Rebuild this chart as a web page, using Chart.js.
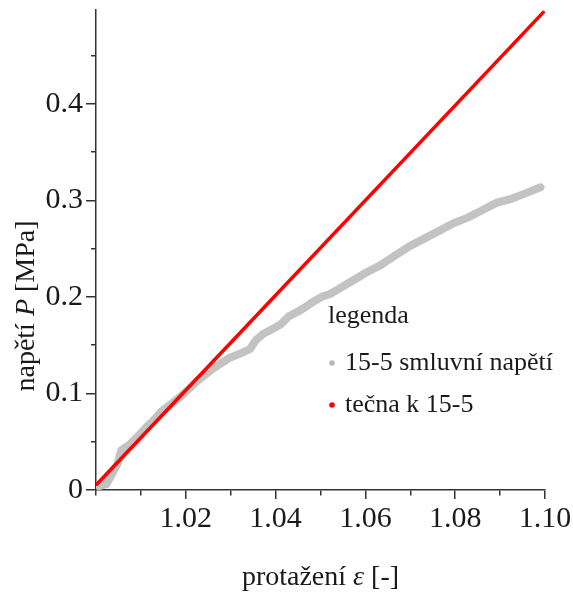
<!DOCTYPE html>
<html lang="cs">
<head>
    <meta charset="UTF-8">
    <title>napětí vs protažení</title>
    <style>
        html, body { margin: 0; padding: 0; background: #fff; }
        #wrap { position: relative; width: 573px; height: 598px; }
    </style>
</head>
<body>
    <div id="wrap"><canvas id="graf"></canvas></div>

    <script src="https://cdn.jsdelivr.net/npm/chart.js"></script>
    <script>
        // 15-5 smluvni napeti (protazeni, napeti)
        const protazeni = [1.0007, 1.0023, 1.0035, 1.0048, 1.0052, 1.0056, 1.0075, 1.0096, 1.0112, 1.0128,
            1.0145, 1.0162, 1.0177, 1.0194, 1.021, 1.0226, 1.0242, 1.0258, 1.0275, 1.0298,
            1.0325, 1.0343, 1.0356, 1.0372, 1.039, 1.041, 1.043, 1.0447, 1.0465, 1.0484,
            1.0503, 1.0521, 1.054, 1.0558, 1.058, 1.06, 1.0633, 1.0665, 1.0698, 1.073,
            1.0763, 1.0795, 1.0828, 1.086, 1.0893, 1.0925, 1.0958, 1.099];
        const napeti = [0.004, 0.006, 0.016, 0.027, 0.034, 0.041, 0.047, 0.057, 0.065, 0.072,
            0.081, 0.087, 0.0926, 0.099, 0.106, 0.113, 0.119, 0.125, 0.130, 0.137,
            0.142, 0.146, 0.155, 0.1616, 0.166, 0.171, 0.180, 0.184, 0.189, 0.195,
            0.200, 0.203, 0.208, 0.213, 0.219, 0.2247, 0.2326, 0.2424, 0.2523, 0.260,
            0.268, 0.276, 0.282, 0.2897, 0.2976, 0.3015, 0.3074, 0.3134];
        // tecna k 15-5
        const tecnaX = [1.0002, 1.0996];
        const tecnaY = [0.006, 0.4945];

        const nazvy = ['15-5 smluvní napětí', 'tečna k 15-5'];
        const barvy = ['#c3c3c3', '#ff0000'];
        const legendaNadpis = 'legenda';
        const xLabelTicks = [1.02, 1.04, 1.06, 1.08, 1.10];
        const yLabelTicks = [0, 0.1, 0.2, 0.3, 0.4];

        const serif = "'Liberation Serif', 'Times New Roman', serif";

        function body(xs, ys) {
            return xs.map((x, i) => ({ x: x, y: ys[i] }));
        }
        function najdi(seznam, v) {
            return seznam.find(t => Math.abs(t - v) < 1e-6);
        }

        function kresliText(ctx, casti, x, y, size) {
            let sirka = 0;
            casti.forEach(c => {
                ctx.font = (c.it ? 'italic ' : '') + size + 'px ' + serif;
                sirka += ctx.measureText(c.t).width;
            });
            let px = x - sirka / 2;
            casti.forEach(c => {
                ctx.font = (c.it ? 'italic ' : '') + size + 'px ' + serif;
                ctx.fillText(c.t, px, y);
                px += ctx.measureText(c.t).width;
            });
        }

        const popisky = {
            id: 'popisky',
            afterDraw(chart) {
                const ctx = chart.ctx;
                const a = chart.chartArea;
                ctx.save();
                ctx.fillStyle = '#1a1a1a';
                ctx.textBaseline = 'alphabetic';
                ctx.textAlign = 'left';
                kresliText(ctx, [{ t: 'protažení ' }, { t: 'ε', it: true }, { t: ' [-]' }], (a.left + a.right) / 2, 585, 28);
                ctx.save();
                ctx.translate(34, 306);
                ctx.rotate(-Math.PI / 2);
                kresliText(ctx, [{ t: 'napětí ' }, { t: 'P', it: true }, { t: ' [MPa]' }], 0, 0, 28);
                ctx.restore();

                // legenda
                ctx.font = '26px ' + serif;
                ctx.fillText(legendaNadpis, 328, 323);
                chart.data.datasets.forEach((ds, i) => {
                    const y = 370 + i * 42;
                    ctx.fillStyle = ds.legendColor;
                    ctx.beginPath();
                    ctx.arc(332, y - 7, 2.8, 0, Math.PI * 2);
                    ctx.fill();
                    ctx.fillStyle = '#1a1a1a';
                    ctx.fillText(ds.label, 345, y);
                });
                ctx.restore();
            }
        };

        new Chart(document.getElementById('graf'), {
            type: 'line',
            data: {
                datasets: [{
                    label: nazvy[0],
                    data: body(protazeni, napeti),
                    borderColor: barvy[0],
                    legendColor: '#b8b8b8',
                    borderWidth: 8,
                    borderCapStyle: 'round',
                    borderJoinStyle: 'round',
                    pointRadius: 0,
                    tension: 0,
                    order: 2
                }, {
                    label: nazvy[1],
                    data: body(tecnaX, tecnaY),
                    borderColor: barvy[1],
                    legendColor: barvy[1],
                    borderWidth: 3.5,
                    borderCapStyle: 'round',
                    pointRadius: 0,
                    order: 1
                }]
            },
            options: {
                responsive: true,
                maintainAspectRatio: false,
                animation: false,
                layout: { padding: { left: 0, right: 28, top: 10, bottom: 0 } },
                plugins: { legend: { display: false }, tooltip: { enabled: false } },
                scales: {
                    x: {
                        type: 'linear',
                        min: 1.0,
                        max: 1.1,
                        afterFit: s => { s.height = 108; s.paddingLeft = 0; s.paddingRight = 0; },
                        border: { display: true, color: '#333', width: 1.5 },
                        grid: {
                            drawOnChartArea: false, drawTicks: true, tickLength: 9, color: '#333', lineWidth: 1.5,
                            tickBorderDash: c => najdi(xLabelTicks, c.tick.value) !== undefined ? [] : [5, 100]
                        },
                        ticks: {
                            stepSize: 0.01,
                            includeBounds: false,
                            autoSkip: false,
                            maxRotation: 0,
                            padding: 2,
                            color: '#1a1a1a',
                            font: { family: serif, size: 30 },
                            callback: v => {
                                const m = najdi(xLabelTicks, v);
                                return m !== undefined ? m.toFixed(2) : '';
                            }
                        }
                    },
                    y: {
                        type: 'linear',
                        min: 0,
                        max: 0.497,
                        afterFit: s => { s.width = 96; s.paddingTop = 0; s.paddingBottom = 0; },
                        border: { display: true, color: '#333', width: 1.5 },
                        grid: {
                            drawOnChartArea: false, drawTicks: true, tickLength: 10, color: '#333', lineWidth: 1.5,
                            tickBorderDash: c => najdi(yLabelTicks, c.tick.value) !== undefined ? [] : [0, 5, 6, 100]
                        },
                        ticks: {
                            stepSize: 0.05,
                            includeBounds: false,
                            autoSkip: false,
                            padding: 3,
                            color: '#1a1a1a',
                            font: { family: serif, size: 30 },
                            callback: v => {
                                const m = najdi(yLabelTicks, v);
                                return m !== undefined ? String(m) : '';
                            }
                        }
                    }
                }
            },
            plugins: [popisky]
        });
    </script>
</body>
</html>
